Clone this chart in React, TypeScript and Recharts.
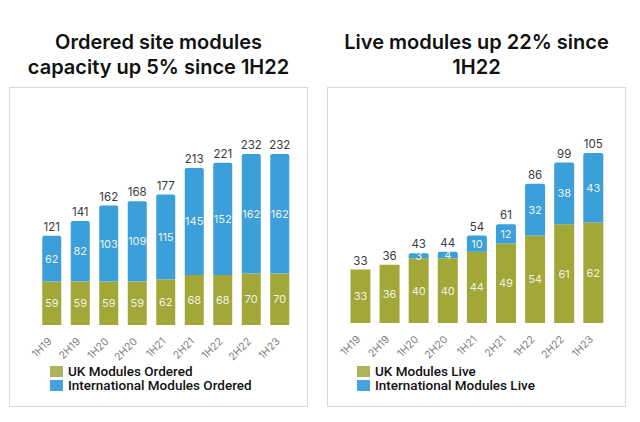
import React from 'react';
import { BarChart, Bar, XAxis, YAxis, LabelList } from 'recharts';

const periods = ['1H19', '2H19', '1H20', '2H20', '1H21', '2H21', '1H22', '2H22', '1H23'];

const ukOrdered = [59, 59, 59, 59, 62, 68, 68, 70, 70];
const intlOrdered = [62, 82, 103, 109, 115, 145, 152, 162, 162];
const totalOrdered = [121, 141, 162, 168, 177, 213, 221, 232, 232];

const ukLive = [33, 36, 40, 40, 44, 49, 54, 61, 62];
const intlLive = [0, 0, 3, 4, 10, 12, 32, 38, 43];
const totalLive = [33, 36, 43, 44, 54, 61, 86, 99, 105];

const OLIVE = '#a2a737';
const BLUE = '#3b9fd9';
const LEGEND_OLIVE = '#adb35a';
const LEGEND_BLUE = '#44a3dd';

const orderedData = periods.map((p, i) => ({ p, uk: ukOrdered[i], intl: intlOrdered[i], total: totalOrdered[i] }));
const liveData = periods.map((p, i) => ({ p, uk: ukLive[i], intl: intlLive[i], total: totalLive[i] }));

const FONT = 'Inter, "Liberation Sans", sans-serif';

const Tick = (props: any) => {
  const { x, y, payload } = props;
  return (
    <g transform={`translate(${x + 1},${y + 9})`}>
      <text x={0} y={0} textAnchor="end" transform="rotate(-45)" fontSize={10.5} fill="#808080" fontFamily={FONT}>
        {payload.value}
      </text>
    </g>
  );
};

const inner = (props: any) => {
  const { x, y, width, height, value } = props;
  if (!value) return null;
  return (
    <text x={x + width / 2} y={y + height / 2 + 4} textAnchor="middle" fontSize={11} fill="#eef2e6" fontFamily={FONT}>
      {value}
    </text>
  );
};

// total label hung on the UK bar, lifted by the scaled height of the international part
function makeTotal(uk: number[], intl: number[], totals: number[]) {
  return (props: any) => {
    const { x, y, width, height, index } = props;
    const perUnit = height / uk[index];
    const top = y - intl[index] * perUnit;
    return (
      <text x={x + width / 2} y={top - 5} textAnchor="middle" fontSize={11.5} fill="#3a3a3a" fontFamily={FONT}>
        {totals[index]}
      </text>
    );
  };
}

function Legend({ left, top, items }: { left: number; top: number; items: { color: string; label: string }[] }) {
  return (
    <div style={{ position: 'absolute', left, top }}>
      {items.map((it) => (
        <div key={it.label} style={{ display: 'flex', alignItems: 'center', height: 14, lineHeight: '14px', fontFamily: 'Roboto, "Liberation Sans", sans-serif', fontSize: 13.5, fontWeight: 500, color: '#111' }}>
          <span style={{ width: 13, height: 11, background: it.color, marginRight: 5, display: 'inline-block' }} />
          {it.label}
        </div>
      ))}
    </div>
  );
}

function Panel({ left, title, data, uk, intl, totals, domainMax, plotH, margin, barSize, legend, legendLeft }: any) {
  return (
    <>
      <div style={{ position: 'absolute', left, top: 30, width: 299, textAlign: 'center', fontFamily: FONT, fontWeight: 600, fontSize: 20, lineHeight: '25px', color: '#111' }}>
        {title.map((t: string) => (
          <div key={t}>{t}</div>
        ))}
      </div>
      <div style={{ position: 'absolute', left, top: 87, width: 297, height: 318, border: '1px solid #d9d9d9', background: '#fff' }} />
      <div style={{ position: 'absolute', left, top: 87 }}>
        <BarChart width={299} height={margin.top + plotH + 40} data={data} margin={{ ...margin, bottom: 0 }} barSize={barSize}>
          <YAxis hide domain={[0, domainMax]} />
          <XAxis dataKey="p" axisLine={false} tickLine={false} interval={0} height={40} tick={<Tick />} />
          <Bar dataKey="uk" stackId="a" fill={OLIVE} isAnimationActive={false}>
            <LabelList dataKey="uk" content={inner} />
            <LabelList dataKey="total" content={makeTotal(uk, intl, totals)} />
          </Bar>
          <Bar dataKey="intl" stackId="a" fill={BLUE} radius={[2, 2, 0, 0]} isAnimationActive={false}>
            <LabelList dataKey="intl" content={inner} />
          </Bar>
        </BarChart>
      </div>
      <Legend left={legendLeft} top={364} items={legend} />
    </>
  );
}

export default function App() {
  return (
    <div style={{ position: 'absolute', left: 0, top: 0, width: 640, height: 422, background: '#fff', overflow: 'hidden' }}>
      <Panel
        left={9}
        title={['Ordered site modules', 'capacity up 5% since 1H22']}
        data={orderedData}
        uk={ukOrdered}
        intl={intlOrdered}
        totals={totalOrdered}
        domainMax={250}
        plotH={184.25}
        margin={{ top: 53.75, left: 28.25, right: 14.25 }}
        barSize={19}
        legendLeft={50}
        legend={[
          { color: LEGEND_OLIVE, label: 'UK Modules Ordered' },
          { color: LEGEND_BLUE, label: 'International Modules Ordered' },
        ]}
      />
      <Panel
        left={327}
        title={['Live modules up 22% since', '1H22']}
        data={liveData}
        uk={ukLive}
        intl={intlLive}
        totals={totalLive}
        domainMax={115}
        plotH={186.3}
        margin={{ top: 49.7, left: 18.45, right: 18.6 }}
        barSize={20}
        legendLeft={357}
        legend={[
          { color: LEGEND_OLIVE, label: 'UK Modules Live' },
          { color: LEGEND_BLUE, label: 'International Modules Live' },
        ]}
      />
    </div>
  );
}
